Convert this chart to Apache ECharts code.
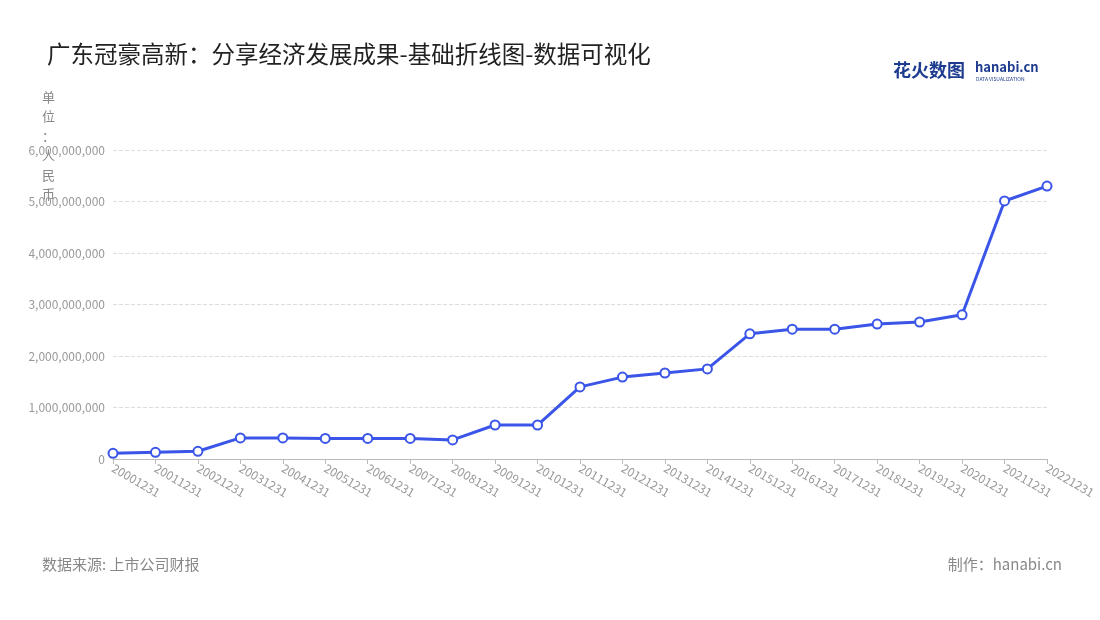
<!DOCTYPE html>
<html><head><meta charset="utf-8">
<script src="https://cdn.jsdelivr.net/npm/echarts@6/dist/echarts.min.js"></script>
<style>body{margin:0}#c{width:1100px;height:620px}</style></head>
<body><div id="c"></div>
<script>
const categories=['20001231','20011231','20021231','20031231','20041231','20051231','20061231','20071231','20081231','20091231','20101231','20111231','20121231','20131231','20141231','20151231','20161231','20171231','20181231','20191231','20201231','20211231','20221231'];
const values=[110000000,130000000,150000000,410000000,410000000,400000000,400000000,400000000,370000000,660000000,660000000,1400000000,1590000000,1670000000,1750000000,2430000000,2520000000,2520000000,2620000000,2660000000,2800000000,5010000000,5300000000];
const F='"Noto Sans CJK SC","Noto Sans",sans-serif';
const c=echarts.init(document.getElementById('c'));
c.setOption({
 title:{text:'广东冠豪高新：分享经济发展成果-基础折线图-数据可视化',left:42,top:37,textStyle:{fontFamily:F,fontSize:23.5,fontWeight:'normal',color:'#222'}},
 graphic:[
  {type:'text',left:42,top:87,style:{text:'单\n位\n：\n人\n民\n币',fontFamily:F,fontSize:13,fill:'#888',lineHeight:19.5}},
  {type:'text',left:42,top:557,style:{text:'数据来源: 上市公司财报',fontFamily:F,fontSize:15,fill:'#888'}},
  {type:'text',right:38,top:557,style:{text:'制作：hanabi.cn',fontFamily:F,fontSize:15,fill:'#888'}},
  {type:'text',left:893,top:61,style:{text:'花火数图',fontFamily:F,fontSize:18,fontWeight:'bold',fill:'#1d3b8f'}},
  {type:'text',left:975,top:61,style:{text:'hanabi.cn',fontFamily:F,fontSize:13,fontWeight:'bold',fill:'#1d3b8f'}},
  {type:'text',left:976,top:77,style:{text:'DATA VISUALIZATION',fontFamily:F,fontSize:5,fill:'#1d3b8f'}}
 ],
 grid:{left:113,right:53,top:150,bottom:161},
 xAxis:{type:'category',data:categories,boundaryGap:false,
  axisLine:{lineStyle:{color:'#bbb'}},axisTick:{show:true,lineStyle:{color:'#bbb'}},
  axisLabel:{rotate:-30,color:'#999',fontFamily:F,fontSize:12,interval:0}},
 yAxis:{type:'value',min:0,max:6000000000,interval:1000000000,
  axisLabel:{color:'#999',fontFamily:F,fontSize:12,formatter:v=>v.toLocaleString('en-US')},
  splitLine:{lineStyle:{type:'dashed',color:'#ddd'}},axisLine:{show:false}},
 series:[{type:'line',data:values,symbol:'circle',symbolSize:9,
  lineStyle:{color:'#3a55e8',width:3},
  itemStyle:{color:'#fff',borderColor:'#3a55e8',borderWidth:2}}]
});
</script></body></html>
